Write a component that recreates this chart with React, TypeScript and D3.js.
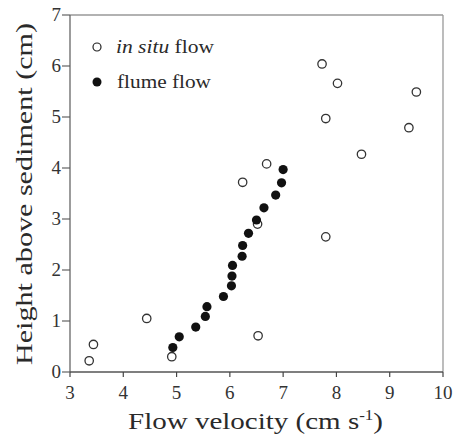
import React from "react";
import * as d3 from "d3";

const inSituX = [7.73, 8.02, 9.5, 7.8, 9.36, 8.47, 6.69, 6.24, 7.8, 6.52, 6.53, 3.36, 3.44, 4.44, 4.91];
const inSituY = [6.04, 5.66, 5.49, 4.97, 4.79, 4.27, 4.08, 3.72, 2.65, 2.9, 0.71, 0.22, 0.54, 1.05, 0.3];
const flumeX = [4.93, 5.05, 5.36, 5.54, 5.57, 5.88, 6.03, 6.04, 6.05, 6.23, 6.24, 6.35, 6.5, 6.64, 6.86, 6.97, 7.0];
const flumeY = [0.48, 0.69, 0.88, 1.09, 1.28, 1.48, 1.69, 1.88, 2.09, 2.27, 2.48, 2.72, 2.98, 3.22, 3.47, 3.71, 3.97];
const xTicks = [3, 4, 5, 6, 7, 8, 9, 10];
const yTicks = [0, 1, 2, 3, 4, 5, 6, 7];
const legendLabels = ["in situ", "flume flow"];

const W = 456;
const H = 442;
const L = 70, R = 443, T = 15, B = 372;
const font = "'Liberation Serif', 'Times New Roman', serif";

export default function App() {
  const x = d3.scaleLinear().domain([3, 10]).range([L, R]);
  const y = d3.scaleLinear().domain([0, 7]).range([B, T]);
  return (
    <svg width={W} height={H} style={{ position: "absolute", left: 0, top: 0, background: "#fff" }} fontFamily={font}>
      {/* frame */}
      <line x1={L} x2={R} y1={T} y2={T} stroke="#999" strokeWidth={1.3} />
      <line x1={R} x2={R} y1={T} y2={B} stroke="#999" strokeWidth={1.3} />
      <line x1={L} x2={L} y1={T} y2={B} stroke="#666" strokeWidth={1.3} />
      <line x1={L} x2={R} y1={B} y2={B} stroke="#555" strokeWidth={1.4} />
      {xTicks.map((t) => (
        <g key={"x" + t}>
          <line x1={x(t)} x2={x(t)} y1={B} y2={B + 5} stroke="#444" strokeWidth={1.2} />
          <text x={x(t)} y={B + 27} textAnchor="middle" fontSize={19} fill="#333">{t}</text>
        </g>
      ))}
      {yTicks.map((t) => (
        <g key={"y" + t}>
          <line x1={L - 8} x2={L} y1={y(t)} y2={y(t)} stroke="#555" strokeWidth={1.1} />
          <text x={L - 9} y={y(t) + 6} textAnchor="end" fontSize={19} fill="#333">{t}</text>
        </g>
      ))}
      <text x={128} y={429} fontSize={24} fill="#2a2a2a" textLength={255} lengthAdjust="spacingAndGlyphs">
        Flow velocity (cm s<tspan dy={-9} fontSize={14}>-1</tspan><tspan dy={9}>)</tspan>
      </text>
      <text transform={`translate(32, 365) rotate(-90)`} fontSize={23} fill="#2a2a2a" textLength={342} lengthAdjust="spacingAndGlyphs">
        Height above sediment (cm)
      </text>
      {/* legend */}
      <circle cx={97} cy={47} r={4} fill="#fff" stroke="#222" strokeWidth={1.2} />
      <text x={116} y={53} fontSize={19} fill="#2a2a2a" textLength={98} lengthAdjust="spacingAndGlyphs">
        <tspan fontStyle="italic">{legendLabels[0]}</tspan> flow
      </text>
      <circle cx={97} cy={82} r={4.5} fill="#111" />
      <text x={117} y={88} fontSize={19} fill="#2a2a2a" textLength={94} lengthAdjust="spacingAndGlyphs">{legendLabels[1]}</text>
      {inSituX.map((v, i) => (
        <circle key={"o" + i} cx={x(v)} cy={y(inSituY[i])} r={4.2} fill="#fff" stroke="#333" strokeWidth={1.3} />
      ))}
      {flumeX.map((v, i) => (
        <circle key={"f" + i} cx={x(v)} cy={y(flumeY[i])} r={4.6} fill="#111" />
      ))}
    </svg>
  );
}
